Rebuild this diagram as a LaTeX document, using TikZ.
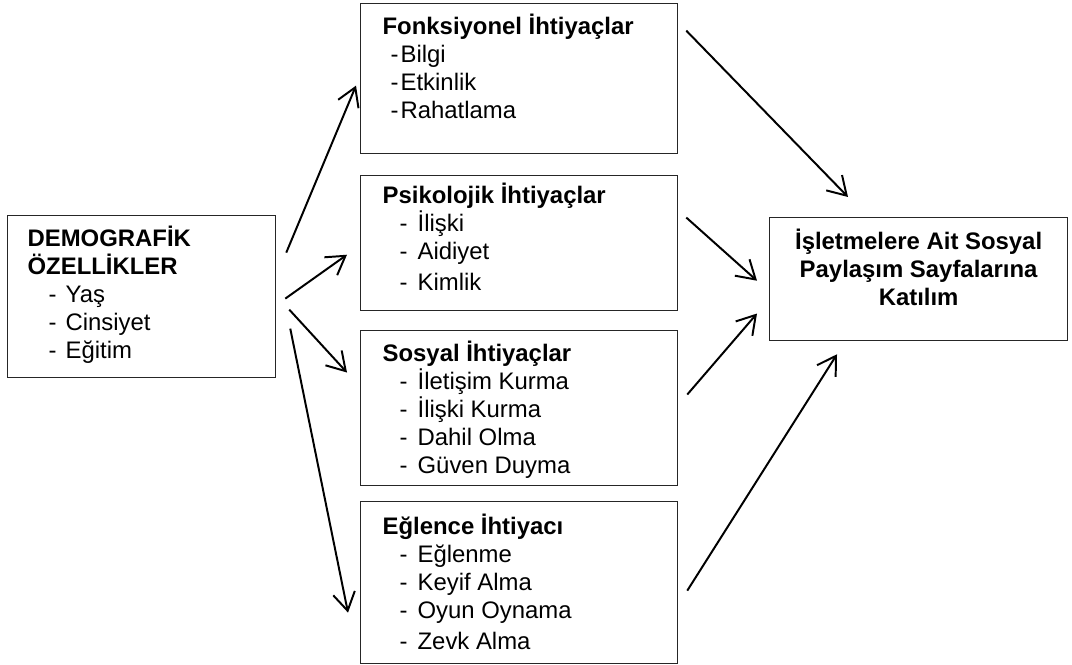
\documentclass[tikz,border=0pt]{standalone}
\usepackage{fontspec}
\setmainfont{Liberation Sans}
\usetikzlibrary{arrows.meta}
\newcommand{\dashitem}[3]{\par\hspace*{#1}\makebox[#2][l]{-}#3}

\begin{document}
\begin{tikzpicture}[
    box/.style={draw=black!85, line width=0.9pt, anchor=north west,
      inner xsep=0.55cm, inner ysep=0.25cm,
      font=\fontsize{17pt}{19.9pt}\selectfont},
    arr/.style={-{Straight Barb[length=4.5mm,width=5.5mm]}, line width=1.4pt}]
  \useasboundingbox (0,0) rectangle (26.8,16.6);
  \node[box, inner xsep=0.5cm] (demo) at (0.175,11.225)
    {\parbox[t][3.55cm][t]{5.7cm}{\textbf{DEMOGRAFİK\\ÖZELLİKLER}
      \dashitem{0.525cm}{0.425cm}{Yaş}
      \dashitem{0.525cm}{0.425cm}{Cinsiyet}
      \dashitem{0.525cm}{0.425cm}{Eğitim}}};
  \node[box] (fonk) at (9.0,16.525)
    {\parbox[t][3.25cm][t]{6.825cm}{\textbf{Fonksiyonel İhtiyaçlar}
      \dashitem{0.2cm}{0.25cm}{Bilgi}
      \dashitem{0.2cm}{0.25cm}{Etkinlik}
      \dashitem{0.2cm}{0.25cm}{Rahatlama}}};
  \node[box, inner ysep=0.18cm] (psik) at (9.0,12.225)
    {\parbox[t][3.015cm][t]{6.825cm}{\textbf{Psikolojik İhtiyaçlar}
      \dashitem{0.425cm}{0.45cm}{İlişki}
      \dashitem{0.425cm}{0.45cm}{Aidiyet}
      \vspace{0.07cm}\dashitem{0.425cm}{0.45cm}{Kimlik}}};
  \node[box] (sosyal) at (9.0,8.35)
    {\parbox[t][3.375cm][t]{6.825cm}{\textbf{Sosyal İhtiyaçlar}
      \dashitem{0.425cm}{0.45cm}{İletişim Kurma}
      \dashitem{0.425cm}{0.45cm}{İlişki Kurma}
      \dashitem{0.425cm}{0.45cm}{Dahil Olma}
      \dashitem{0.425cm}{0.45cm}{Güven Duyma}}};
  \node[box, inner ysep=0.3cm] (eglence) at (9.0,4.075)
    {\parbox[t][3.45cm][t]{6.825cm}{\textbf{Eğlence İhtiyacı}
      \dashitem{0.425cm}{0.45cm}{Eğlenme}
      \dashitem{0.425cm}{0.45cm}{Keyif Alma}
      \dashitem{0.425cm}{0.45cm}{Oyun Oynama}
      \vspace{0.08cm}\dashitem{0.425cm}{0.45cm}{Zevk Alma}}};
  \node[box, inner xsep=0.3cm, inner ysep=0.28cm] (katilim) at (19.225,11.175)
    {\parbox[t][2.515cm][t]{6.85cm}{\centering\bfseries
      İşletmelere Ait Sosyal\\Paylaşım Sayfalarına\\Katılım}};
  \begin{scope}[arr]
    \draw ([shift={(0.25,1.1)}]demo.east) to ([shift={(-0.1,-0.175)}]fonk.west);
    \draw ([shift={(0.225,-0.05)}]demo.east) to ([shift={(-0.325,-0.29)}]psik.west);
    \draw ([shift={(0.325,-0.325)}]demo.east) to ([shift={(-0.325,0.89)}]sosyal.west);
    \draw ([shift={(0.35,-0.8)}]demo.east) to ([shift={(-0.3,-0.75)}]eglence.west);
    \draw ([shift={(0.2,1.2)}]fonk.east) to ([shift={(1.975,0.5)}]katilim.north west);
    \draw ([shift={(0.2,0.64)}]psik.east) to ([shift={(-0.3,-0.04)}]katilim.west);
    \draw ([shift={(0.225,0.34)}]sosyal.east) to ([shift={(-0.3,-0.86)}]katilim.west);
    \draw ([shift={(0.225,-0.2)}]eglence.east) to ([shift={(1.7,-0.325)}]katilim.south west);
  \end{scope}
\end{tikzpicture}
\end{document}
